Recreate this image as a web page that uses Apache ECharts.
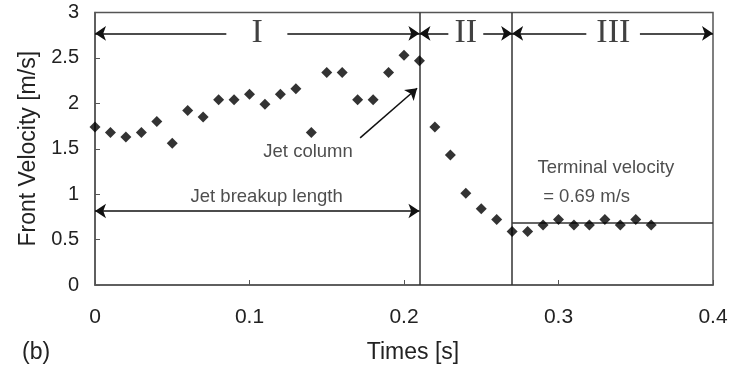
<!DOCTYPE html>
<html>
<head>
<meta charset="utf-8">
<script src="https://cdn.jsdelivr.net/npm/echarts@6/dist/echarts.min.js"></script>
<style>html,body{margin:0;padding:0;background:#fff}#c{width:734px;height:370px}</style>
</head>
<body>
<div id="c"></div>
<script>
// ---- data ----
const times = [0.00,0.01,0.02,0.03,0.04,0.05,0.06,0.07,0.08,0.09,0.10,0.11,0.12,0.13,0.14,0.15,0.16,0.17,0.18,0.19,0.20,0.21,0.22,0.23,0.24,0.25,0.26,0.27,0.28,0.29,0.30,0.31,0.32,0.33,0.34,0.35,0.36];
const velocity = [1.74,1.68,1.63,1.68,1.80,1.56,1.92,1.85,2.04,2.04,2.10,1.99,2.10,2.16,1.68,2.34,2.34,2.04,2.04,2.34,2.53,2.47,1.74,1.43,1.01,0.84,0.72,0.59,0.59,0.66,0.72,0.66,0.66,0.72,0.66,0.72,0.66];
const regionBounds = [0.21, 0.27];
const terminalVelocity = 0.69;
const breakupLength = 0.21;
const xTicks = ['0','0.1','0.2','0.3','0.4'];
const yTicks = ['0','0.5','1','1.5','2','2.5','3'];

// annotations (data coordinates)
const regionLabels = [
  {name:'I',   value:[0.105, 2.77]},
  {name:'II',  value:[0.240, 2.77]},
  {name:'III', value:[0.3355, 2.77]}
];
const regionArrows = [
  [[0.085,2.77],[0.0,2.77]], [[0.1245,2.77],[0.21,2.77]],
  [[0.2287,2.77],[0.21,2.77]], [[0.2513,2.77],[0.27,2.77]],
  [[0.318,2.77],[0.27,2.77]], [[0.3527,2.77],[0.4,2.77]]
];
const textNotes = [
  {name:'Jet column',         value:[0.1379,1.468]},
  {name:'Jet breakup length', value:[0.1111,0.972]},
  {name:'Terminal velocity',  value:[0.3306,1.288]},
  {name:'= 0.69 m/s',         value:[0.3182,0.972]}
];
const jetColumnArrow = [[0.1716,1.62],[0.2085,2.166]];

const chart = echarts.init(document.getElementById('c'));
const ink = '#222';
const points = times.map((t,i)=>[t, velocity[i]]);

chart.setOption({
  backgroundColor:'#fff',
  animation:false,
  grid:{left:95, right:21, top:12.5, bottom:85, show:true, borderColor:'#555', borderWidth:1.5},
  xAxis:{
    type:'value', min:0, max:0.4, interval:0.1,
    name:'Times [s]', nameLocation:'middle', nameGap:56,
    nameTextStyle:{fontFamily:'Liberation Sans', fontSize:23, color:ink, padding:[0,0,0,18]},
    axisLine:{show:true, lineStyle:{color:'#555', width:1.5}},
    axisTick:{show:true, inside:true, length:5, lineStyle:{color:'#555'}},
    splitLine:{show:false},
    axisLabel:{margin:22, fontFamily:'Liberation Sans', fontSize:21, color:ink,
      formatter:(v)=>{const i=Math.round(v*10); return xTicks[i]!==undefined?xTicks[i]:'';}}
  },
  yAxis:{
    type:'value', min:0, max:3, interval:0.5,
    name:'Front Velocity [m/s]', nameLocation:'middle', nameGap:55,
    nameTextStyle:{fontFamily:'Liberation Sans', fontSize:23, color:ink},
    axisLine:{show:true, lineStyle:{color:'#555', width:1.5}},
    axisTick:{show:true, inside:true, length:5, lineStyle:{color:'#555'}},
    splitLine:{show:false},
    axisLabel:{margin:16, fontFamily:'Liberation Sans', fontSize:20, color:ink,
      formatter:(v)=>{const i=Math.round(v*2); return yTicks[i]!==undefined?yTicks[i]:'';}}
  },
  graphic:[{type:'text', left:22, top:341, style:{text:'(b)', fontFamily:'Liberation Sans', fontSize:23, fill:ink}}],
  series:[
    {type:'lines', coordinateSystem:'cartesian2d', silent:true, symbol:'none', z:3,
     lineStyle:{color:'#333', width:1.5, opacity:1},
     data: regionBounds.map(x=>({coords:[[x,0],[x,3]]})).concat([{coords:[[regionBounds[1],terminalVelocity],[0.4,terminalVelocity]]}])},
    {type:'lines', coordinateSystem:'cartesian2d', silent:true, symbol:['none','arrow'], symbolSize:11, z:3,
     lineStyle:{color:'#111', width:1.5, opacity:1},
     data: regionArrows.map(c=>({coords:c})).concat([{coords:jetColumnArrow}])},
    {type:'lines', coordinateSystem:'cartesian2d', silent:true, symbol:['arrow','arrow'], symbolSize:11, z:3,
     lineStyle:{color:'#111', width:1.5, opacity:1},
     data:[{coords:[[0,0.815],[breakupLength,0.815]]}]},
    {type:'scatter', symbol:'diamond', symbolSize:11, itemStyle:{color:'#000'}, z:5, data:points},
    {type:'scatter', symbolSize:0, silent:true, z:6, data:regionLabels,
     label:{show:true, position:'inside', formatter:'{b}', fontFamily:'Liberation Serif', fontSize:34, color:'#111'}},
    {type:'scatter', symbolSize:0, silent:true, z:6, data:textNotes,
     label:{show:true, position:'inside', formatter:'{b}', fontFamily:'Liberation Sans', fontSize:18.5, color:ink}}
  ]
});
</script>
</body>
</html>
